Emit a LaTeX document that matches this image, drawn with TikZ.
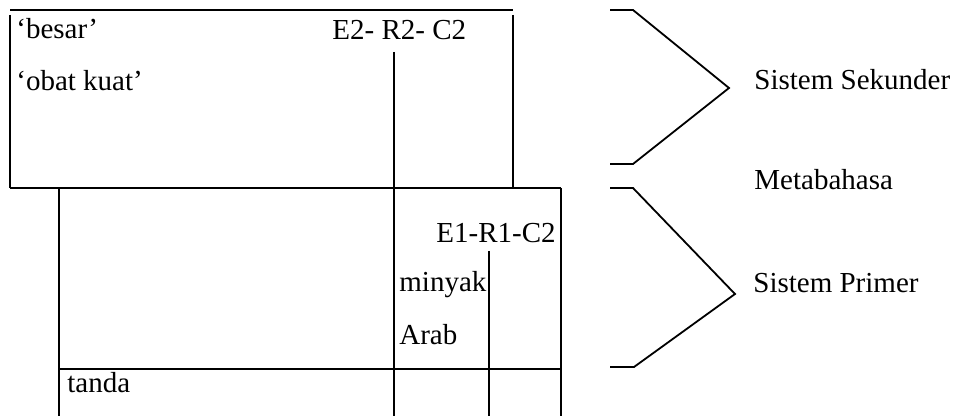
\documentclass[tikz,border=0pt]{standalone}
\usepackage{fontspec}
\setmainfont{Liberation Serif}
\begin{document}
\begin{tikzpicture}[x=0.5pt,y=-0.5pt,
  rule/.style={line width=0.9pt},
  lbl/.style={anchor=base west,inner sep=0pt,font=\fontsize{14.5}{17}\selectfont}]
\useasboundingbox (0,0) rectangle (953,416);

% upper table (secondary system)
\draw[rule] (10,10) -- (513,10);
\draw[rule] (10,15) -- (10,188);
\draw[rule] (513,15) -- (513,188);
\draw[rule] (10,188) -- (561,188);
\draw[rule] (394,52) -- (394,416);

% lower table (primary system)
\draw[rule] (59,188) -- (59,416);
\draw[rule] (561,188) -- (561,416);
\draw[rule] (59,369) -- (561,369);
\draw[rule] (489,251) -- (489,416);

% cell texts
\node[lbl] (besar) at (16,39) {‘besar’};
\node[lbl] (obat) at (16,91) {‘obat kuat’};
\node[lbl] (erc2) at (332,40) {E2- R2- C2};
\node[lbl] (erc1) at (436,243) {E1-R1-C2};
\node[lbl] (minyak) at (399,292) {minyak};
\node[lbl] (arab) at (399,345) {Arab};
\node[lbl] (tanda) at (67,393) {tanda};

% braces
\coordinate (s1a) at (610,10);
\coordinate (s1b) at (633,10);
\coordinate (s1c) at (729,88);
\coordinate (s1d) at (633,164);
\coordinate (s1e) at (610,164);
\draw[rule] (s1a) -- (s1b) -- (s1c) -- (s1d) -- (s1e);

\coordinate (s2a) at (610,188);
\coordinate (s2b) at (633,188);
\coordinate (s2c) at (735,294);
\coordinate (s2d) at (634,367);
\coordinate (s2e) at (610,367);
\draw[rule] (s2a) -- (s2b) -- (s2c) -- (s2d) -- (s2e);

% system labels
\node[lbl] (sek) at (754,90) {Sistem Sekunder};
\node[lbl] (meta) at (754,190) {Metabahasa};
\node[lbl] (prim) at (753,293) {Sistem Primer};
\end{tikzpicture}
\end{document}
